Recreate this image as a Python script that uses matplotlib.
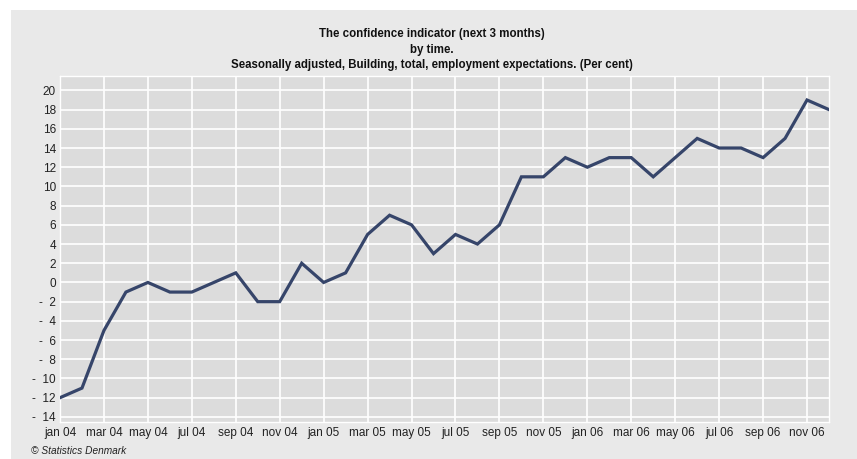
import numpy as np
import matplotlib.pyplot as plt
from matplotlib.ticker import FixedLocator
from matplotlib.patches import Rectangle

# monthly values jan 04 .. dec 06 (per cent)
months = ['jan', 'feb', 'mar', 'apr', 'may', 'jun', 'jul', 'aug', 'sep', 'oct', 'nov', 'dec']
years = ['04', '05', '06']
values = [-12, -11, -5, -1, 0, -1, -1, 0, 1, -2, -2, 2,
          0, 1, 5, 7, 6, 3, 5, 4, 6, 11, 11, 13,
          12, 13, 13, 11, 13, 15, 14, 14, 13, 15, 19, 18]
labels = [m + ' ' + y for y in years for m in months]
yticks = list(range(-14, 21, 2))

title = ("The confidence indicator (next 3 months)\nby time.\n"
         "Seasonally adjusted, Building, total, employment expectations. (Per cent)")

plt.rcParams['font.family'] = ['Liberation Sans', 'DejaVu Sans']

W, H = 857, 459
fig = plt.figure(figsize=(W / 100, H / 100), dpi=100)
fig.patch.set_facecolor('white')
fig.patches.append(Rectangle((11 / W, 0), 1 - 11 / W, 1 - 10 / H, transform=fig.transFigure,
                             facecolor='#e9e9e9', edgecolor='none', zorder=-5))

ax = fig.add_axes([60 / W, 1 - 421.7 / H, 769 / W, (421.7 - 76) / H])
ax.set_facecolor('#dcdcdc')

x = np.arange(len(values))
ax.plot(x, values, color='#36456a', lw=2.3, solid_joinstyle='miter', zorder=3)

ax.set_xlim(0, len(values) - 1)
ax.set_ylim(-14.5, 21.5)
ax.xaxis.set_major_locator(FixedLocator(x[::2]))
ax.set_xticklabels(labels[::2])
ax.set_yticks(yticks)
ax.set_yticklabels([('-  %d' % -v) if v < 0 else str(v) for v in yticks])
ax.tick_params(length=0, labelsize=8.5, colors='#222222', pad=3)
ax.tick_params(axis='x', pad=4)
ax.grid(True, color='white', lw=1.2)
ax.set_axisbelow(True)
for s in ax.spines.values():
    s.set_color('white')
    s.set_linewidth(1)

fig.text(432 / W, 1 - 28.5 / H, title, ha='center', va='top', fontsize=8.3,
         fontweight='bold', linespacing=1.35, color='#111111')
fig.text(31 / W, 1 - 451 / H, '\u00a9 Statistics Denmark', ha='left', va='center',
         fontsize=7.3, style='italic', color='#222222')

fig.savefig('out.png', dpi=100, facecolor=fig.get_facecolor())
